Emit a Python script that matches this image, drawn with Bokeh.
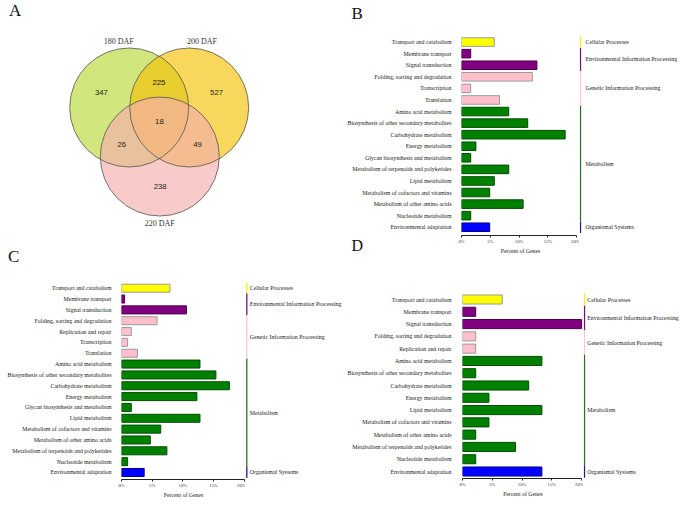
import math
from bokeh.plotting import figure
from bokeh.layouts import row, column
from bokeh.models import Range1d, FixedTicker, Title, ColumnDataSource
from bokeh.core.properties import value
from bokeh.embed import file_html
from bokeh.resources import INLINE

# ---------------- data ----------------
venn_sets = ["180 DAF", "200 DAF", "220 DAF"]
venn_unique = [347, 527, 238]
venn_pair_members = [(0, 1), (0, 2), (1, 2)]
venn_pairs = [225, 26, 49]
venn_triple = 18

group_names = ["Cellular Processes", "Environmental Information Processing",
               "Genetic Information Processing", "Metabolism", "Organismal Systems"]

pathway_group = {
    "Transport and catabolism": 0,
    "Membrane transport": 1,
    "Signal transduction": 1,
    "Folding, sorting and degradation": 2,
    "Replication and repair": 2,
    "Transcription": 2,
    "Translation": 2,
    "Amino acid metabolism": 3,
    "Biosynthesis of other secondary metabolites": 3,
    "Carbohydrate metabolism": 3,
    "Energy metabolism": 3,
    "Glycan biosynthesis and metabolism": 3,
    "Lipid metabolism": 3,
    "Metabolism of cofactors and vitamins": 3,
    "Metabolism of other amino acids": 3,
    "Metabolism of terpenoids and polyketides": 3,
    "Nucleotide metabolism": 3,
    "Environmental adaptation": 4,
}

b_categories = ["Transport and catabolism", "Membrane transport", "Signal transduction",
                "Folding, sorting and degradation", "Transcription", "Translation",
                "Amino acid metabolism", "Biosynthesis of other secondary metabolites",
                "Carbohydrate metabolism", "Energy metabolism", "Glycan biosynthesis and metabolism",
                "Metabolism of terpenoids and polyketides", "Lipid metabolism",
                "Metabolism of cofactors and vitamins", "Metabolism of other amino acids",
                "Nucleotide metabolism", "Environmental adaptation"]
b_percent = [5.7, 1.6, 13.1, 12.3, 1.6, 6.6, 8.2, 11.5, 18.0, 2.5, 1.6, 8.2, 5.7, 4.9, 10.7, 1.6, 4.9]

c_categories = ["Transport and catabolism", "Membrane transport", "Signal transduction",
                "Folding, sorting and degradation", "Replication and repair", "Transcription",
                "Translation", "Amino acid metabolism", "Biosynthesis of other secondary metabolites",
                "Carbohydrate metabolism", "Energy metabolism", "Glycan biosynthesis and metabolism",
                "Lipid metabolism", "Metabolism of cofactors and vitamins",
                "Metabolism of other amino acids", "Metabolism of terpenoids and polyketides",
                "Nucleotide metabolism", "Environmental adaptation"]
c_percent = [7.9, 0.5, 10.6, 5.8, 1.6, 1.0, 2.6, 12.8, 15.4, 17.6, 12.3, 1.6, 12.8, 6.4, 4.7, 7.4, 1.0, 3.7]

d_categories = ["Transport and catabolism", "Membrane transport", "Signal transduction",
                "Folding, sorting and degradation", "Replication and repair",
                "Amino acid metabolism", "Biosynthesis of other secondary metabolites",
                "Carbohydrate metabolism", "Energy metabolism", "Lipid metabolism",
                "Metabolism of cofactors and vitamins", "Metabolism of other amino acids",
                "Metabolism of terpenoids and polyketides", "Nucleotide metabolism",
                "Environmental adaptation"]
d_percent = [6.67, 2.22, 20.0, 2.22, 2.22, 13.33, 2.22, 11.11, 4.44, 13.33, 4.44, 2.22, 8.89, 2.22, 13.33]

x_ticks = [0, 5, 10, 15, 20]
x_tick_labels = ["0%", "5%", "10%", "15%", "20%"]

# ---------------- styles ----------------
SERIF = "Liberation Serif"
SANS = "Liberation Sans"
group_fill = ["#ffff00", "#800080", "#ffc0cb", "#008000", "#0000ff"]
group_edge = ["#9a9a9a", "#4d004d", "#9a9a9a", "#004d00", "#00008b"]
group_line = ["#f2f200", "#6b1a6b", "#ffc8d2", "#2a6e2a", "#1c1c8c"]
venn_fill = ["#b8d836", "#f3c104", "#f6aeae"]


def bar_panel(cats, vals, h, bar_w, grp_w, mb_left, mb_top, mb_bottom, px_pct, row0, step,
              line_x, text_x, standoff):
    n = len(cats)
    frame_h = h - mb_top - mb_bottom
    y_top = -(row0 - mb_top) / step
    y_bot = y_top + frame_h / step
    yr = Range1d(start=y_bot, end=y_top)
    xr = Range1d(start=0, end=(bar_w - mb_left) / px_pct)
    g = [pathway_group[c] for c in cats]
    src = ColumnDataSource(dict(y=list(range(n)), v=vals,
                                fill=[group_fill[i] for i in g],
                                edge=[group_edge[i] for i in g]))
    p = figure(width=bar_w, height=h, x_range=xr, y_range=yr, output_backend="svg",
               toolbar_location=None, min_border_left=mb_left, min_border_right=0,
               min_border_top=mb_top, min_border_bottom=mb_bottom, outline_line_color=None)
    p.hbar(y="y", left=0, right="v", height=0.74, fill_color="fill", line_color="edge",
           line_width=1, source=src)
    p.grid.visible = False
    ya = p.yaxis[0]
    ya.ticker = FixedTicker(ticks=list(range(n)))
    ya.major_label_overrides = {i: c for i, c in enumerate(cats)}
    ya.axis_line_color = None
    ya.major_tick_line_color = None
    ya.minor_tick_line_color = None
    ya.major_label_standoff = standoff
    ya.major_label_text_font = SERIF
    ya.major_label_text_font_size = "5.9px"
    ya.major_label_text_color = "#1a1a1a"
    xa = p.xaxis[0]
    xa.bounds = (0, 20)
    xa.ticker = FixedTicker(ticks=x_ticks)
    xa.major_label_overrides = {t: l for t, l in zip(x_ticks, x_tick_labels)}
    xa.minor_tick_line_color = None
    xa.major_tick_out = 2
    xa.major_tick_in = 0
    xa.axis_line_width = 1.2
    xa.axis_line_color = "#222222"
    xa.major_tick_line_color = "#222222"
    xa.major_label_standoff = 1
    xa.major_label_text_font = SERIF
    xa.major_label_text_font_size = "4.6px"
    xa.major_label_text_color = "#333333"
    xa.axis_label = "Percent of Genes"
    xa.axis_label_standoff = 1
    xa.axis_label_text_font = SERIF
    xa.axis_label_text_font_style = "normal"
    xa.axis_label_text_font_size = "5.8px"
    xa.axis_label_text_color = "#1a1a1a"

    q = figure(width=grp_w, height=h, x_range=Range1d(0, grp_w), y_range=yr,
               output_backend="svg", toolbar_location=None, x_axis_location=None,
               y_axis_location=None, min_border_left=0, min_border_right=0,
               min_border_top=mb_top, min_border_bottom=mb_bottom, outline_line_color=None)
    q.grid.visible = False
    seg = dict(y0=[], y1=[], ym=[], color=[], name=[])
    for gi in sorted(set(g)):
        idx = [i for i, x in enumerate(g) if x == gi]
        seg["y0"].append(min(idx) - 0.5)
        seg["y1"].append(max(idx) + 0.5)
        seg["ym"].append((min(idx) + max(idx)) / 2)
        seg["color"].append(group_line[gi])
        seg["name"].append(group_names[gi])
    ss = ColumnDataSource(seg)
    q.segment(x0=line_x, x1=line_x, y0="y0", y1="y1", line_color="color", line_width=1.3, source=ss)
    q.text(x=text_x, y="ym", text="name", source=ss, text_font=value(SERIF),
           text_font_size="5.9px", text_baseline="middle", text_align="left", text_color="#222222")
    return p, q


# ---------------- Venn (panel A) ----------------
S = 59.5
A_W, A_H = 344, 266
OX, OY = 158.7, 107.0


def px2d(px, py):
    return (px - OX) / S, (OY - py) / S


venn = figure(width=A_W, height=A_H, output_backend="svg", toolbar_location=None,
              x_range=Range1d(-OX / S, (A_W - OX) / S), y_range=Range1d(-(A_H - OY) / S, OY / S),
              x_axis_location=None, y_axis_location=None, min_border=0, outline_line_color=None)
venn.grid.visible = False
centers = [(-0.504, 0.0), (0.504, 0.0), (0.01, -0.824)]
cx = [c[0] for c in centers]
cy = [c[1] for c in centers]
venn.circle(x=cx, y=cy, radius=1.0, fill_color=venn_fill, fill_alpha=0.65, line_color=None)
venn.circle(x=cx, y=cy, radius=1.0, fill_color=None, line_color="#555555", line_width=0.8)
gx, gy = sum(cx) / 3, sum(cy) / 3
lx, ly, lt = [], [], []
for i, cnt in enumerate(venn_unique):
    lx.append(gx + 1.92 * (cx[i] - gx)); ly.append(gy + 1.92 * (cy[i] - gy)); lt.append(str(cnt))
for (i, j), cnt in zip(venn_pair_members, venn_pairs):
    mx, my = (cx[i] + cx[j]) / 2, (cy[i] + cy[j]) / 2
    lx.append(gx + 2.53 * (mx - gx)); ly.append(gy + 2.53 * (my - gy)); lt.append(str(cnt))
lx.append(gx); ly.append(gy + 0.04); lt.append(str(venn_triple))
venn.text(x=lx, y=ly, text=lt, text_font=value(SANS), text_font_size="7.8px",
          text_align="center", text_baseline="middle", text_color="#222222")
set_angles = [99, 79, 270]
sx = [cx[i] + 1.125 * math.cos(math.radians(a)) for i, a in enumerate(set_angles)]
sy = [cy[i] + 1.125 * math.sin(math.radians(a)) for i, a in enumerate(set_angles)]
venn.text(x=sx, y=sy, text=venn_sets, text_font=value(SERIF), text_font_size="8px",
          text_align="center", text_baseline="middle", text_color="#333333")
ax, ay = px2d(8.5, 0)
venn.text(x=[ax], y=[ay], text=["A"], text_font=value(SERIF), text_font_size="17px",
          text_align="left", text_baseline="top", text_color="#111111")
cxl, cyl = px2d(7.5, 246)
venn.text(x=[cxl], y=[cyl], text=["C"], text_font=value(SERIF), text_font_size="17px",
          text_align="left", text_baseline="top", text_color="#111111")

# ---------------- bar panels ----------------
b_bar, b_grp = bar_panel(b_categories, b_percent, h=256, bar_w=235, grp_w=105, mb_left=110,
                         mb_top=22, mb_bottom=20, px_pct=6.1, row0=41.7, step=11.625,
                         line_x=1.0, text_x=6.0, standoff=4)
c_bar, c_grp = bar_panel(c_categories, c_percent, h=234, bar_w=245, grp_w=99, mb_left=121,
                         mb_top=0, mb_bottom=21, px_pct=6.13, row0=21.7, step=10.84,
                         line_x=1.3, text_x=4.3, standoff=4)
d_bar, d_grp = bar_panel(d_categories, d_percent, h=244, bar_w=239, grp_w=101, mb_left=112,
                         mb_top=0, mb_bottom=22, px_pct=6.25, row0=43.0, step=12.286,
                         line_x=1.0, text_x=3.7, standoff=5)

b_bar.add_layout(Title(text="B", align="left", offset=-110, vertical_align="top",
                       standoff=-4, text_font=SERIF, text_font_size="17px",
                       text_font_style="normal", text_color="#111111"), "above")
b_bar.add_layout(Title(text="D", align="left", offset=-110, vertical_align="top",
                       standoff=-40, text_font=SERIF, text_font_size="16px",
                       text_font_style="normal", text_color="#111111"), "below")

left = column(venn, row(c_bar, c_grp))
right = column(row(b_bar, b_grp), row(d_bar, d_grp))
layout = row(left, right)

open("out.html", "w").write(file_html(layout, INLINE))
